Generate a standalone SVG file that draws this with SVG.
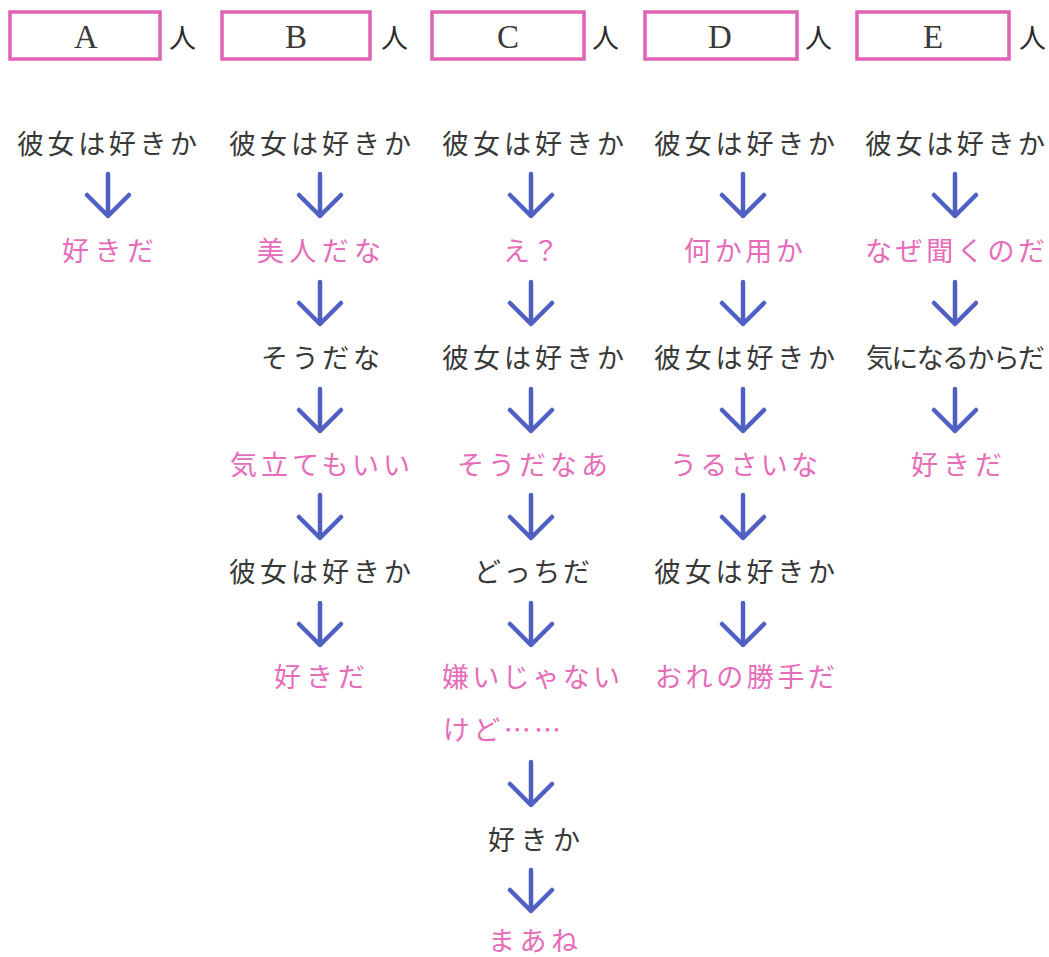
<svg xmlns="http://www.w3.org/2000/svg" width="1049" height="957" viewBox="0 0 1049 957">
<style>
.box{fill:#fff;stroke:#e062b4;stroke-width:3.5}
.hl{font-family:"Liberation Serif","Noto Sans CJK JP",serif;font-size:33px;fill:#3a3a3a;text-anchor:middle}
.nin{font-family:"Noto Sans CJK JP","Noto Sans CJK SC",sans-serif;font-size:27px;fill:#2a2a2a}
.t{font-family:"Noto Sans CJK JP","Noto Sans CJK SC",sans-serif;font-size:27px}
.k{fill:#383838}
.p{fill:#e66cba}
.arr{fill:none;stroke:#5060c2;stroke-width:4.5;stroke-linecap:round;stroke-linejoin:round}
</style>
<rect width="1049" height="957" fill="#fff"/>
<g id="header">
  <g id="hdr-A"><rect class="box" x="10" y="12" width="150" height="47"/><text class="hl" x="86" y="48">A</text><text class="nin" x="169" y="47.5">人</text></g>
  <g id="hdr-B"><rect class="box" x="222" y="12" width="148" height="47"/><text class="hl" x="296" y="48">B</text><text class="nin" x="381" y="47.5">人</text></g>
  <g id="hdr-C"><rect class="box" x="432" y="12" width="152" height="47"/><text class="hl" x="508" y="48">C</text><text class="nin" x="592" y="47.5">人</text></g>
  <g id="hdr-D"><rect class="box" x="645" y="12" width="152" height="47"/><text class="hl" x="720" y="48">D</text><text class="nin" x="805" y="47.5">人</text></g>
  <g id="hdr-E"><rect class="box" x="857" y="12" width="152" height="47"/><text class="hl" x="933" y="48">E</text><text class="nin" x="1019" y="47.5">人</text></g>
</g>
<g id="connectors">
  <path class="arr" d="M108,174V216M87,195L108,216L129,195"/>
  <path class="arr" d="M320,174V216M299,195L320,216L341,195"/>
  <path class="arr" d="M320,282V324M299,303L320,324L341,303"/>
  <path class="arr" d="M320,389V431M299,410L320,431L341,410"/>
  <path class="arr" d="M320,495V538M299,517L320,538L341,517"/>
  <path class="arr" d="M320,603V645M299,624L320,645L341,624"/>
  <path class="arr" d="M531,174V216M510,195L531,216L552,195"/>
  <path class="arr" d="M531,282V324M510,303L531,324L552,303"/>
  <path class="arr" d="M531,389V431M510,410L531,431L552,410"/>
  <path class="arr" d="M531,495V538M510,517L531,538L552,517"/>
  <path class="arr" d="M531,603V645M510,624L531,645L552,624"/>
  <path class="arr" d="M531,762V805M510,784L531,805L552,784"/>
  <path class="arr" d="M531,870V911M510,890L531,911L552,890"/>
  <path class="arr" d="M743,174V216M722,195L743,216L764,195"/>
  <path class="arr" d="M743,282V324M722,303L743,324L764,303"/>
  <path class="arr" d="M743,389V431M722,410L743,431L764,410"/>
  <path class="arr" d="M743,495V538M722,517L743,538L764,517"/>
  <path class="arr" d="M743,603V645M722,624L743,645L764,624"/>
  <path class="arr" d="M955,174V216M934,195L955,216L976,195"/>
  <path class="arr" d="M955,282V324M934,303L955,324L976,303"/>
  <path class="arr" d="M955,389V431M934,410L955,431L976,410"/>
</g>
<g id="col-A">
  <g id="A1"><text class="t k" x="17" y="153.5" textLength="180" lengthAdjust="spacing">彼女は好きか</text></g>
  <g id="A2"><text class="t p" x="62" y="261" textLength="92" lengthAdjust="spacing">好きだ</text></g>
</g>
<g id="col-B">
  <g id="B1"><text class="t k" x="229" y="153.5" textLength="182" lengthAdjust="spacing">彼女は好きか</text></g>
  <g id="B2"><text class="t p" x="257" y="261" textLength="124" lengthAdjust="spacing">美人だな</text></g>
  <g id="B3"><text class="t k" x="261" y="368" textLength="119" lengthAdjust="spacing">そうだな</text></g>
  <g id="B4"><text class="t p" x="230" y="474.5" textLength="180" lengthAdjust="spacing">気立てもいい</text></g>
  <g id="B5"><text class="t k" x="229" y="582" textLength="182" lengthAdjust="spacing">彼女は好きか</text></g>
  <g id="B6"><text class="t p" x="274" y="687" textLength="91" lengthAdjust="spacing">好きだ</text></g>
</g>
<g id="col-C">
  <g id="C1"><text class="t k" x="442" y="153.5" textLength="182" lengthAdjust="spacing">彼女は好きか</text></g>
  <g id="C2"><text class="t p" x="503" y="261" textLength="56" lengthAdjust="spacing">え？</text></g>
  <g id="C3"><text class="t k" x="442" y="368" textLength="182" lengthAdjust="spacing">彼女は好きか</text></g>
  <g id="C4"><text class="t p" x="457" y="474.5" textLength="151" lengthAdjust="spacing">そうだなあ</text></g>
  <g id="C5"><text class="t k" x="474" y="582" textLength="116" lengthAdjust="spacing">どっちだ</text></g>
  <g id="C6"><text class="t p" x="442" y="687" textLength="178" lengthAdjust="spacing">嫌いじゃない</text>
    <text class="t p" x="443" y="740" textLength="118" lengthAdjust="spacing">けど……</text></g>
  <g id="C7"><text class="t k" x="488" y="850" textLength="92" lengthAdjust="spacing">好きか</text></g>
  <g id="C8"><text class="t p" x="488" y="950.5" textLength="90" lengthAdjust="spacing">まあね</text></g>
</g>
<g id="col-D">
  <g id="D1"><text class="t k" x="654" y="153.5" textLength="181" lengthAdjust="spacing">彼女は好きか</text></g>
  <g id="D2"><text class="t p" x="684" y="261" textLength="119" lengthAdjust="spacing">何か用か</text></g>
  <g id="D3"><text class="t k" x="654" y="368" textLength="181" lengthAdjust="spacing">彼女は好きか</text></g>
  <g id="D4"><text class="t p" x="670" y="474.5" textLength="148" lengthAdjust="spacing">うるさいな</text></g>
  <g id="D5"><text class="t k" x="654" y="582" textLength="181" lengthAdjust="spacing">彼女は好きか</text></g>
  <g id="D6"><text class="t p" x="655" y="687" textLength="180" lengthAdjust="spacing">おれの勝手だ</text></g>
</g>
<g id="col-E">
  <g id="E1"><text class="t k" x="865" y="153.5" textLength="180" lengthAdjust="spacing">彼女は好きか</text></g>
  <g id="E2"><text class="t p" x="865" y="261" textLength="180" lengthAdjust="spacing">なぜ聞くのだ</text></g>
  <g id="E3"><text class="t k" x="866" y="368" textLength="179" lengthAdjust="spacing">気になるからだ</text></g>
  <g id="E4"><text class="t p" x="911" y="474.5" textLength="91" lengthAdjust="spacing">好きだ</text></g>
</g>
</svg>
